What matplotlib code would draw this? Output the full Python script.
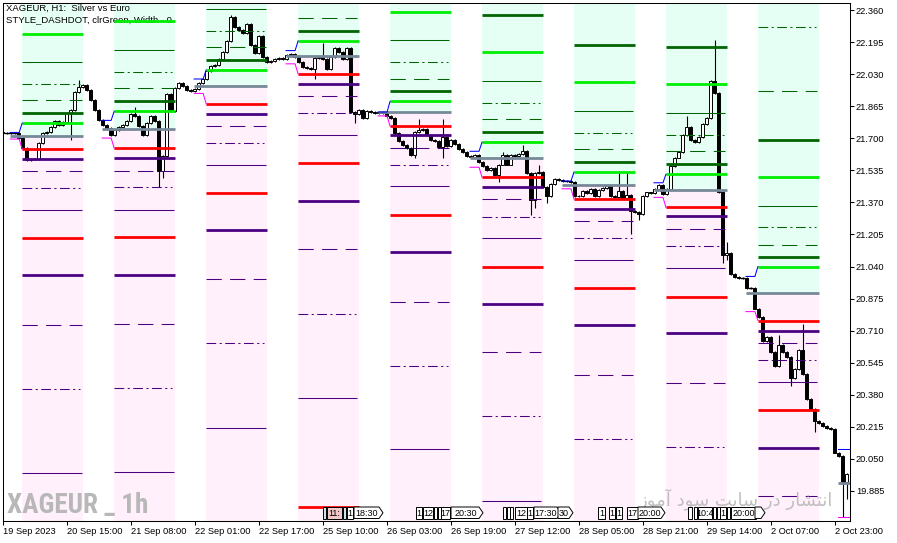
import matplotlib
matplotlib.use("Agg")
import matplotlib.pyplot as plt
from matplotlib.patches import Polygon
from matplotlib.transforms import IdentityTransform
from matplotlib import font_manager

W, H, DPI = 897, 543, 100
plt.rcParams['lines.scale_dashes'] = False
plt.rcParams['font.family'] = ['Liberation Sans', 'DejaVu Sans']

# ---------------- data ----------------
title_line1 = "XAGEUR, H1:  Silver vs Euro"
title_line2 = "STYLE_DASHDOT, clrGreen, Width - 0"
watermark_symbol = "XAGEUR _ 1h"
watermark_site = "انتشار در سایت سود آموز"

x_tick_labels = ["19 Sep 2023", "20 Sep 15:00", "21 Sep 08:00", "22 Sep 01:00",
                 "22 Sep 17:00", "25 Sep 10:00", "26 Sep 03:00", "26 Sep 19:00",
                 "27 Sep 12:00", "28 Sep 05:00", "28 Sep 21:00", "29 Sep 14:00",
                 "2 Oct 07:00", "2 Oct 23:00"]
x_tick_bars = [0, 16, 32, 48, 64, 80, 96, 112, 128, 144, 160, 176, 192, 208]
y_tick_values = [22.360, 22.195, 22.030, 21.865, 21.700, 21.535, 21.370, 21.205,
                 21.040, 20.875, 20.710, 20.545, 20.380, 20.215, 20.050, 19.885]

first_open = 21.730
closes = [
    21.727, 21.727, 21.727, 21.725, 21.701, 21.650, 21.588, 21.593, 21.595, 21.676,
    21.727, 21.732, 21.758, 21.789, 21.768, 21.784, 21.830, 21.846, 21.938, 21.964,
    21.974, 21.948, 21.897, 21.845, 21.794, 21.768, 21.753, 21.717, 21.742, 21.756,
    21.767, 21.789, 21.824, 21.816, 21.762, 21.717, 21.780, 21.815, 21.789, 21.530,
    21.610, 21.930, 21.842, 21.958, 21.985, 21.967, 21.949, 21.945, 21.955, 21.985,
    22.003, 22.048, 22.074, 22.078, 22.110, 22.146, 22.199, 22.324, 22.271, 22.256,
    22.240, 22.289, 22.181, 22.137, 22.226, 22.119, 22.092, 22.100, 22.108, 22.112,
    22.106, 22.128, 22.135, 22.120, 22.092, 22.065, 22.060, 22.056, 22.114, 22.118,
    22.110, 22.056, 22.119, 22.164, 22.146, 22.110, 22.164, 21.833, 21.824, 21.846,
    21.806, 21.839, 21.833, 21.830, 21.833, 21.828, 21.815, 21.806, 21.726, 21.685,
    21.667, 21.649, 21.614, 21.731, 21.742, 21.749, 21.717, 21.690, 21.685, 21.655,
    21.708, 21.660, 21.690, 21.672, 21.646, 21.628, 21.610, 21.605, 21.615, 21.578,
    21.556, 21.539, 21.545, 21.512, 21.565, 21.615, 21.565, 21.615, 21.610, 21.620,
    21.635, 21.521, 21.382, 21.521, 21.525, 21.449, 21.405, 21.467, 21.490, 21.485,
    21.480, 21.478, 21.475, 21.405, 21.402, 21.428, 21.420, 21.440, 21.405, 21.435,
    21.445, 21.455, 21.405, 21.400, 21.431, 21.392, 21.410, 21.328, 21.320, 21.310,
    21.405, 21.421, 21.418, 21.440, 21.458, 21.414, 21.440, 21.556, 21.601, 21.628,
    21.717, 21.756, 21.690, 21.681, 21.708, 21.771, 21.806, 21.994, 21.931, 21.423,
    21.101, 21.110, 21.003, 20.985, 20.980, 20.982, 20.928, 20.930, 20.824, 20.780,
    20.655, 20.678, 20.601, 20.530, 20.637, 20.601, 20.574, 20.467, 20.512, 20.610,
    20.485, 20.360, 20.306, 20.244, 20.235, 20.217, 20.210, 20.205, 20.083, 20.066,
    19.932, 19.971]
wick_high = {19: 22.000, 33: 21.860, 57: 22.333, 80: 22.190, 104: 21.798, 110: 21.798,
             125: 21.628, 130: 21.664, 134: 21.565, 154: 21.530, 156: 21.521, 171: 21.815,
             178: 22.208, 181: 21.164, 194: 20.690, 200: 20.744}
wick_low = {17: 21.691, 39: 21.449, 40: 21.494, 78: 22.003, 88: 21.780, 103: 21.601,
            110: 21.601, 124: 21.476, 132: 21.306, 133: 21.342, 136: 21.369, 157: 21.208,
            159: 21.280, 180: 21.056, 181: 21.074, 197: 20.423, 203: 20.190, 210: 19.753,
            211: 19.842}

pivots = [21.714, 21.749, 21.967, 22.123, 21.833, 21.596, 21.462, 21.435, 20.903]
upper_levels = [
    [21.778, 21.831, 21.896, 21.980, 22.092, 22.237],
    [21.839, 21.890, 21.958, 22.040, 22.155, 22.303],
    [22.051, 22.103, 22.169, 22.253, 22.365],
    [22.201, 22.253, 22.321],
    [21.890, 21.942, 22.005, 22.092, 22.205, 22.349],
    [21.680, 21.731, 21.797, 21.881, 21.994, 22.144, 22.335],
    [21.526, 21.578, 21.644, 21.726, 21.839, 21.989, 22.180],
    [21.515, 21.567, 21.633, 21.715, 21.830, 21.980, 22.171],
    [21.040, 21.087, 21.153, 21.242, 21.353, 21.499, 21.690, 21.942, 22.274],
]
lower_levels = [
    [21.644, 21.592, 21.530, 21.442, 21.330, 21.185, 20.994, 20.740, 20.412, 19.978],
    [21.649, 21.598, 21.530, 21.448, 21.333, 21.190, 20.994, 20.746, 20.417, 19.983],
    [21.878, 21.824, 21.762, 21.674, 21.562, 21.419, 21.228, 20.974, 20.644, 20.210],
    [22.031, 21.980, 21.917, 21.830, 21.715, 21.573, 21.376, 21.128, 20.798, 20.365, 19.803],
    [21.762, 21.715, 21.649, 21.562, 21.453, 21.303, 21.114, 20.860, 20.530, 20.101],
    [21.499, 21.447, 21.385, 21.297, 21.185, 21.040, 20.849, 20.598, 20.269, 19.833],
    [21.387, 21.335, 21.274, 21.185, 21.073, 20.928, 20.737, 20.483, 20.153],
    [21.344, 21.298, 21.231, 21.144, 21.035, 20.885, 20.696, 20.442, 20.112],
    [20.762, 20.710, 20.644, 20.558, 20.448, 20.303, 20.107, 19.857],
]
pre_blue = [21.730, 21.792, 22.005, 22.151, 21.835, 21.633, 21.480, 21.471, 20.989]
pre_magenta = [21.696, 21.701, 21.931, 22.083, 21.815, 21.551, 21.440, 21.396, 20.808]
next_pivot, next_blue, next_magenta = 19.928, 20.101, 19.753

event_labels = ["", "11:", "", "1", "18:30", "1", "12", "", "", "17", "20:30",
                "", "", "", "12", "1", "17:30", "30", "1", "1", "1", "17", "20:00",
                "", "", "10:4", "", "", "1", "", "20:00", ""]

# ---------------- style ----------------
LIME, DGREEN, RED, INDIGO, GRAY = '#00EE00', '#006400', '#FF0000', '#4B0082', '#778899'
GREEN_BG, PINK_BG = '#E6FFF5', '#FFF0FC'
THICK, THIN = 2.0, 0.75
DASHED = (0, (11.0, 6.0))
DASHDOT = (0, (7.0, 2.5, 1.5, 2.5))
UPPER_STYLE = [(LIME, 'thick'), (DGREEN, 'thick'), (DGREEN, 'dashed'), (DGREEN, 'dashdot'),
               (DGREEN, 'thin')] * 2
LOWER_STYLE = [(RED, 'thick'), (INDIGO, 'thick'), (INDIGO, 'dashed'), (INDIGO, 'dashdot'),
               (INDIGO, 'thin')] * 2 + [(RED, 'thick')]

fig = plt.figure(figsize=(W / DPI, H / DPI), dpi=DPI)
L, R, T, B = 3, 850, 3, 521
ax = fig.add_axes([L / W, 1 - B / H, (R - L) / W, (B - T) / H])
X0_PX, PX_BAR = 2.7, 4.0
ax.set_xlim((L - X0_PX) / PX_BAR, (R - X0_PX) / PX_BAR)
PX_UNIT = 194.34
ax.set_ylim(22.360 - (B - 10) / PX_UNIT, 22.360 + (10 - T) / PX_UNIT)
ylo, yhi = ax.get_ylim()
xlo, xhi = ax.get_xlim()

ZS0, DAY, ZLEN = 4.8, 23, 15.25


def level(x0, x1, y, col, sty):
    if sty == 'thick':
        ax.plot([x0, x1], [y, y], color=col, lw=THICK, solid_capstyle='butt', zorder=5)
    elif sty == 'thin':
        ax.plot([x0, x1 - 0.4], [y, y], color=col, lw=THIN, solid_capstyle='butt', zorder=4)
    elif sty == 'dashed':
        ax.plot([x0, x1 - 0.4], [y, y], color=col, lw=THIN, linestyle=DASHED,
                dash_capstyle='butt', zorder=4)
    else:
        ax.plot([x0, x1 - 0.8], [y, y], color=col, lw=THIN, linestyle=DASHDOT,
                dash_capstyle='butt', zorder=4)


for k, pv in enumerate(pivots):
    zs = ZS0 + DAY * k
    ze = zs + ZLEN
    ax.fill_between([zs, ze], pv, yhi, color=GREEN_BG, lw=0, zorder=0.5)
    ax.fill_between([zs, ze], ylo, pv, color=PINK_BG, lw=0, zorder=0.5)
    for i, lv in enumerate(upper_levels[k]):
        col, sty = UPPER_STYLE[i]
        level(zs, ze, lv, col, sty)
    for i, lv in enumerate(lower_levels[k]):
        col, sty = LOWER_STYLE[i]
        level(zs, ze, lv, col, sty)
    ax.plot([zs - 3, ze], [pv, pv], color=GRAY, lw=THICK, solid_capstyle='butt', zorder=5)
    ax.plot([zs - 3, zs - 0.75, zs], [pre_blue[k], pre_blue[k], upper_levels[k][0]],
            color='#0000FF', lw=THIN, zorder=5)
    ax.plot([zs - 3, zs - 0.75, zs], [pre_magenta[k], pre_magenta[k], lower_levels[k][0]],
            color='#FF00FF', lw=THIN, zorder=5)

zs_next = ZS0 + DAY * len(pivots)
ax.plot([zs_next - 3, xhi], [next_pivot] * 2, color=GRAY, lw=THICK, solid_capstyle='butt', zorder=5)
ax.plot([zs_next - 3, xhi], [next_blue] * 2, color='#0000FF', lw=THIN, zorder=5)
ax.plot([zs_next - 3, xhi], [next_magenta] * 2, color='#FF00FF', lw=THIN, zorder=5)

# candles
WICK_PAD = 0.005
BODY_W = 0.75
opens = [first_open] + closes[:-1]
for b, (o, c) in enumerate(zip(opens, closes)):
    hi = wick_high.get(b, max(o, c) + WICK_PAD)
    lo = wick_low.get(b, min(o, c) - WICK_PAD)
    ax.plot([b, b], [lo, hi], color='black', lw=0.8, zorder=3, solid_capstyle='butt')
    if abs(c - o) < 0.003:
        ax.plot([b - BODY_W / 2, b + BODY_W / 2], [c, c], color='black', lw=1.0, zorder=3.2)
    else:
        fc = 'white' if c > o else 'black'
        ax.bar(b, c - o, bottom=o, width=BODY_W, color=fc, edgecolor='black',
               linewidth=0.7, zorder=3.1)

# axes styling
for s in ax.spines.values():
    s.set_color('black')
    s.set_linewidth(0.75)
    s.set_zorder(10)
ax.yaxis.tick_right()
ax.set_yticks(y_tick_values)
ax.set_yticklabels([f"{v:.3f}" for v in y_tick_values])
ax.set_xticks(x_tick_bars)
ax.set_xticklabels(x_tick_labels)
for lbl in ax.get_xticklabels():
    lbl.set_horizontalalignment('left')
ax.tick_params(axis='both', direction='out', length=3, width=0.75, labelsize=6.7,
               colors='black')
ax.tick_params(axis='x', pad=1.5)
ax.tick_params(axis='y', pad=1.2)

# header / watermarks (pixel positions)
IT = IdentityTransform()
ax.text(6, H - 4, title_line1, transform=IT, fontsize=6.8, va='top', ha='left', zorder=1)
ax.text(6, H - 15.5, title_line2, transform=IT, fontsize=6.8, va='top', ha='left', zorder=1)


def have_font(name):
    try:
        font_manager.findfont(font_manager.FontProperties(family=name, weight='bold'),
                              fallback_to_default=False)
        return True
    except Exception:
        return False


wm_family = 'Liberation Sans'
wm_stretch = 'normal'
for cand in ['Roboto Condensed', 'Liberation Sans Narrow', 'DejaVu Sans Condensed']:
    if have_font(cand):
        wm_family = cand
        break

renderer = fig.canvas.get_renderer()


def fit_text(x_right_or_left, y_base, s, width_px, size0, **kw):
    t = ax.text(x_right_or_left, H - y_base, s, transform=IT, fontsize=size0, va='baseline', **kw)
    w = t.get_window_extent(renderer=renderer).width
    t.set_fontsize(size0 * width_px / w)
    return t


fit_text(7, 513, watermark_symbol, 141, 20, ha='left', fontweight='bold',
         family=[wm_family, 'DejaVu Sans'], color='#B8B8B8', zorder=1)

FORMS = {
    'ا': ('\uFE8D', '\uFE8E', None, None), 'آ': ('\uFE81', '\uFE82', None, None),
    'ن': ('\uFEE5', '\uFEE6', '\uFEE7', '\uFEE8'), 'ت': ('\uFE95', '\uFE96', '\uFE97', '\uFE98'),
    'ش': ('\uFEB5', '\uFEB6', '\uFEB7', '\uFEB8'), 'ر': ('\uFEAD', '\uFEAE', None, None),
    'د': ('\uFEA9', '\uFEAA', None, None), 'ز': ('\uFEAF', '\uFEB0', None, None),
    'س': ('\uFEB1', '\uFEB2', '\uFEB3', '\uFEB4'), 'و': ('\uFEED', '\uFEEE', None, None),
    'م': ('\uFEE1', '\uFEE2', '\uFEE3', '\uFEE4'), 'ی': ('\uFBFC', '\uFBFD', '\uFBFE', '\uFBFF'),
}


def shape_rtl(s):
    out = []
    for i, ch in enumerate(s):
        if ch not in FORMS:
            out.append(ch)
            continue
        prev = s[i - 1] if i > 0 else None
        nxt = s[i + 1] if i + 1 < len(s) else None
        jp = prev in FORMS and FORMS[prev][2] is not None
        jn = nxt in FORMS and FORMS[ch][2] is not None
        iso, fin, ini, med = FORMS[ch]
        out.append(med if (jp and jn) else fin if jp else ini if jn else iso)
    return ''.join(reversed(out))


fit_text(833, 505, shape_rtl(watermark_site), 195, 14, ha='right',
         family=['DejaVu Sans'], color='#BDBDBD', zorder=6, alpha=0.95)

# event markers at bottom (pixel layout)
EV_GEOM = [(322.5, 326, '#CFE0F0', False), (327, 342, '#F2C8C8', False), (343, 346, '#CFE0F0', False),
           (347, 353, 'white', False), (354, 383, 'white', True), (416, 422, 'white', False),
           (423, 433, 'white', False), (434, 437, 'white', False), (438, 441, 'white', False),
           (441, 450, 'white', False), (451, 483, 'white', True), (503, 506, 'white', False),
           (507, 510, 'white', False), (510, 513, 'white', False), (515, 527, 'white', False),
           (527, 533, 'white', False), (534, 561, 'white', True), (558, 573, 'white', True),
           (598, 605, 'white', False), (609, 615, 'white', False), (616, 622, 'white', False),
           (627, 638, 'white', False), (638, 665, 'white', True), (688, 692, 'white', False),
           (694, 697, 'white', False), (698, 712, 'white', False), (713, 716, 'white', False),
           (717, 720, 'white', False), (720, 726, 'white', False), (727, 730, 'white', False),
           (731, 756, 'white', False), (755, 765, 'white', True)]
EY0, EY1 = 507, 518.5
for (x0, x1, fc, pointed), txt in zip(EV_GEOM, event_labels):
    if pointed:
        pts = [(x0, EY0), (x1 - 4, EY0), (x1, (EY0 + EY1) / 2), (x1 - 4, EY1), (x0, EY1)]
    else:
        pts = [(x0, EY0), (x1, EY0), (x1, EY1), (x0, EY1)]
    pts = [(x, H - y) for x, y in pts]
    fig.add_artist(Polygon(pts, closed=True, facecolor=fc, edgecolor='black', lw=0.7,
                           transform=IT, zorder=20))
    if txt:
        cx = (x0 + x1 - (3 if pointed else 0)) / 2
        fig.text(cx, H - (EY0 + EY1) / 2 - 0.5, txt, transform=IT, fontsize=6.5,
                 ha='center', va='center', zorder=21)

fig.savefig('out.png', dpi=DPI, facecolor='white')
